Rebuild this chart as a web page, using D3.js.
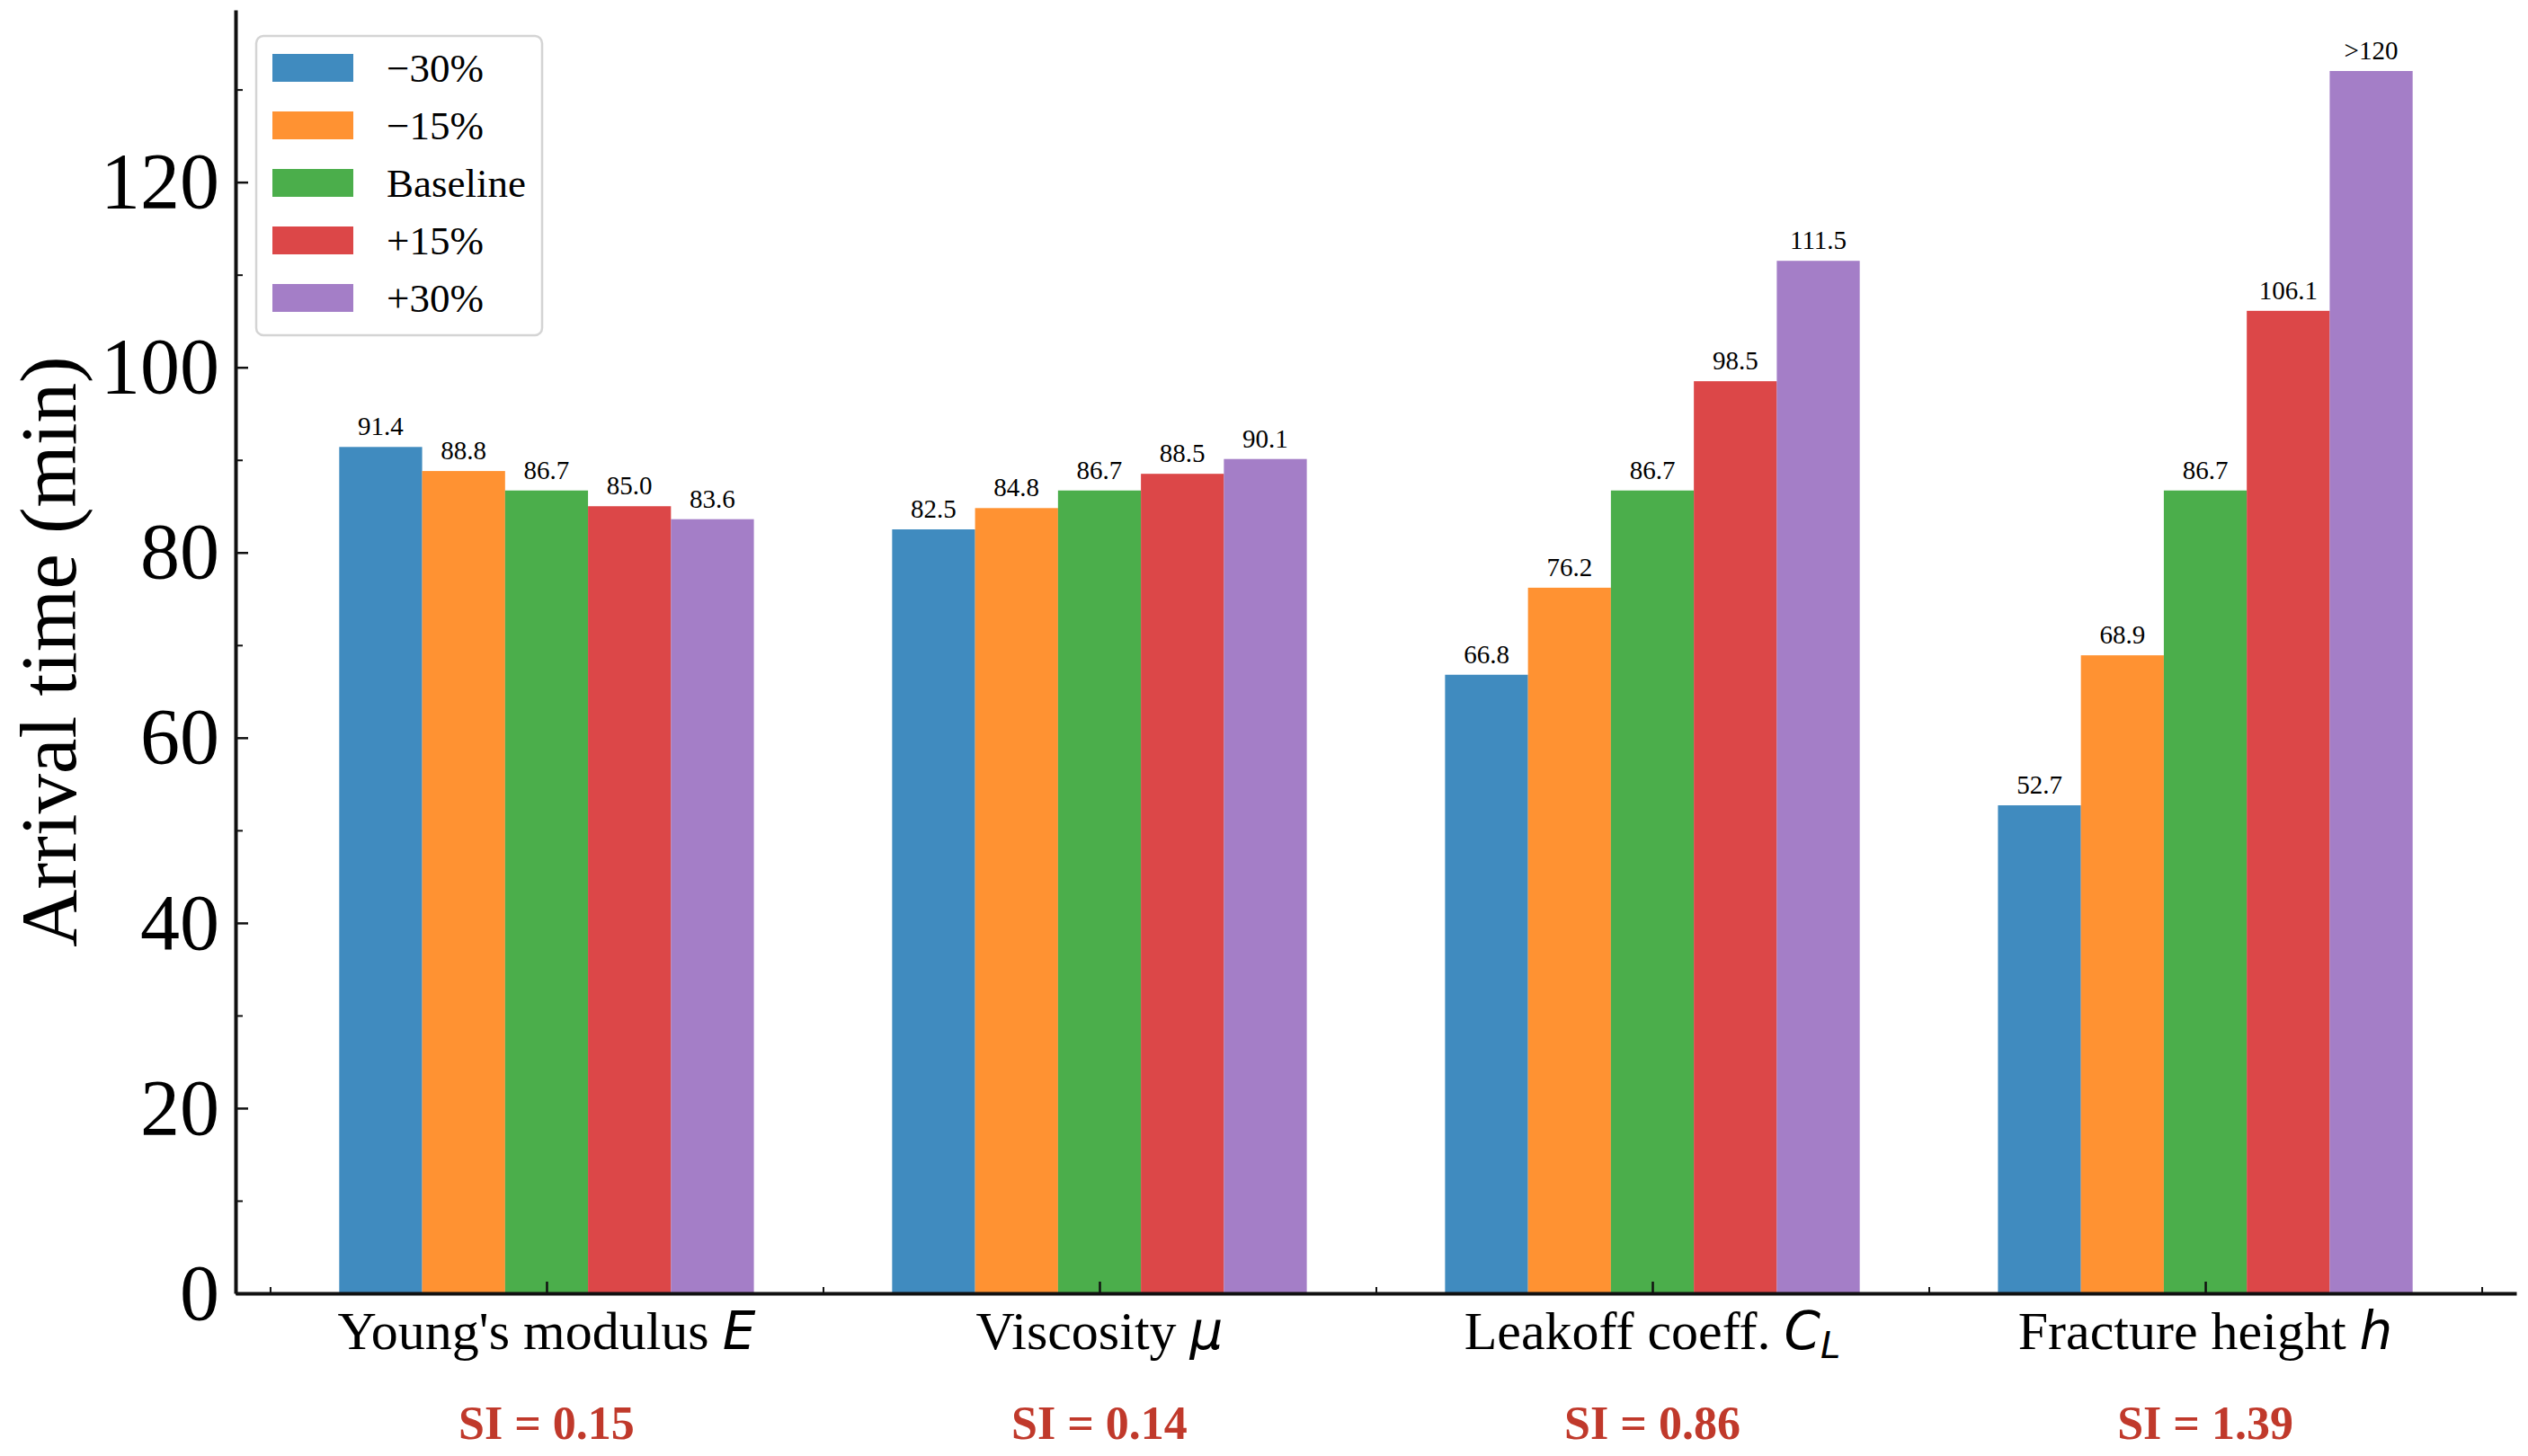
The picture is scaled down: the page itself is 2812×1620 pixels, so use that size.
<!DOCTYPE html>
<html>
<head>
<meta charset="utf-8">
<script src="https://cdn.jsdelivr.net/npm/d3@7"></script>
<style>
  body { margin: 0; background: #fff; }
</style>
</head>
<body>
<div id="chart"></div>
<script>
// ---- data ----
const groups = ["Young's modulus", "Viscosity", "Leakoff coeff.", "Fracture height"];
const symbols = ["E", "\u03bc", "C", "h"];
const subscripts = ["", "", "L", ""];
const seriesNames = ["\u221230%", "\u221215%", "Baseline", "+15%", "+30%"];
const minus30 = [91.4, 82.5, 66.8, 52.7];
const minus15 = [88.8, 84.8, 76.2, 68.9];
const baseline = [86.7, 86.7, 86.7, 86.7];
const plus15 = [85.0, 88.5, 98.5, 106.1];
const plus30 = [83.6, 90.1, 111.5, 132.0];   // last bar is clipped at ">120"
const plus30Labels = ["83.6", "90.1", "111.5", ">120"];
const siValues = ["0.15", "0.14", "0.86", "1.39"];
const yTicks = [0, 20, 40, 60, 80, 100, 120];
const yMinorTicks = [10, 30, 50, 70, 90, 110, 130];

const seriesValues = [minus30, minus15, baseline, plus15, plus30];
const colors = ["#1f77b4", "#ff7f0e", "#2ca02c", "#d62728", "#9467bd"];

const width = 2812, height = 1620;
const serif = "'Liberation Serif', 'Times New Roman', serif";
const mathFont = "'DejaVu Sans', sans-serif";
const barW = 0.15;

const svg = d3.select("#chart").append("svg")
    .attr("width", width)
    .attr("height", height);

const x = d3.scaleLinear().domain([-0.5625, 3.5625]).range([262, 2799]);
const y = d3.scaleLinear().domain([0, 138.6]).range([1439, 11]);

// bars
seriesValues.forEach((vals, j) => {
    const g = svg.append("g");
    const off = (j - 2) * barW;
    g.selectAll("rect")
        .data(vals)
        .enter()
        .append("rect")
        .attr("x", (d, i) => x(i + off - barW / 2))
        .attr("width", x(barW) - x(0))
        .attr("y", d => y(d))
        .attr("height", d => y(0) - y(d))
        .attr("fill", colors[j])
        .attr("fill-opacity", 0.85);

    // value labels on top of bars
    g.selectAll("text")
        .data(vals)
        .enter()
        .append("text")
        .attr("x", (d, i) => x(i + off))
        .attr("y", d => y(d) - 13)
        .attr("text-anchor", "middle")
        .style("font-family", serif)
        .style("font-size", "29px")
        .text((d, i) => j === 4 ? plus30Labels[i] : d.toFixed(1));
});

// y axis
const yAxis = svg.append("g")
    .attr("transform", `translate(${x(-0.5625)},0)`)
    .call(d3.axisLeft(y).tickValues(yTicks).tickSize(-14).tickSizeOuter(0).tickPadding(18));
yAxis.select(".domain").attr("stroke", "#111").attr("stroke-width", 4);
yAxis.selectAll(".tick line").attr("stroke", "#111").attr("stroke-width", 2.5);
yAxis.selectAll(".tick text")
    .style("font-family", serif)
    .style("font-size", "88px")
    .attr("fill", "#000");

const yMinor = svg.append("g")
    .attr("transform", `translate(${x(-0.5625)},0)`)
    .call(d3.axisLeft(y).tickValues(yMinorTicks).tickSize(-8).tickFormat(""));
yMinor.select(".domain").remove();
yMinor.selectAll(".tick line").attr("stroke", "#111").attr("stroke-width", 2);

// x axis
const xAxis = svg.append("g")
    .attr("transform", `translate(0,${y(0)})`)
    .call(d3.axisBottom(x).tickValues([0, 1, 2, 3]).tickSize(-13).tickSizeOuter(0).tickFormat(""));
xAxis.select(".domain").attr("stroke", "#111").attr("stroke-width", 4);
xAxis.selectAll(".tick line").attr("stroke", "#111").attr("stroke-width", 2.5);

const xMinor = svg.append("g")
    .attr("transform", `translate(0,${y(0)})`)
    .call(d3.axisBottom(x).tickValues([-0.5, 0.5, 1.5, 2.5, 3.5]).tickSize(-7).tickFormat(""));
xMinor.select(".domain").remove();
xMinor.selectAll(".tick line").attr("stroke", "#111").attr("stroke-width", 2);

// category labels with italic math symbol
groups.forEach((name, i) => {
    const t = svg.append("text")
        .attr("x", x(i))
        .attr("y", 1501)
        .attr("text-anchor", "middle")
        .style("font-family", serif)
        .style("font-size", "60px");
    t.append("tspan").text(name + " ");
    t.append("tspan")
        .style("font-family", mathFont)
        .style("font-style", "italic")
        .style("font-size", "58px")
        .text(symbols[i]);
    if (subscripts[i]) {
        t.append("tspan")
            .style("font-family", mathFont)
            .style("font-style", "italic")
            .style("font-size", "40px")
            .attr("dy", 10)
            .text(subscripts[i]);
    }

    svg.append("text")
        .attr("x", x(i))
        .attr("y", 1601)
        .attr("text-anchor", "middle")
        .style("font-family", serif)
        .style("font-size", "52px")
        .style("font-weight", "bold")
        .attr("fill", "#c0392b")
        .text("SI = " + siValues[i]);
});

// y label
svg.append("text")
    .attr("transform", `translate(84,${(y(0) + y(138.6)) / 2}) rotate(-90)`)
    .attr("text-anchor", "middle")
    .style("font-family", serif)
    .style("font-size", "89px")
    .text("Arrival time (min)");

// legend
const legend = svg.append("g").attr("transform", "translate(285,40)");
legend.append("rect")
    .attr("width", 318)
    .attr("height", 333)
    .attr("rx", 8)
    .attr("fill", "#fff")
    .attr("fill-opacity", 0.8)
    .attr("stroke", "#d4d4d4")
    .attr("stroke-width", 2.5);

const rowY = d3.scaleLinear().domain([0, 4]).range([35, 291]);
seriesNames.forEach((name, j) => {
    legend.append("rect")
        .attr("x", 18)
        .attr("y", rowY(j) - 15)
        .attr("width", 90)
        .attr("height", 31)
        .attr("fill", colors[j])
        .attr("fill-opacity", 0.85);
    legend.append("text")
        .attr("x", 145)
        .attr("y", rowY(j))
        .attr("dy", "0.35em")
        .style("font-family", serif)
        .style("font-size", "45px")
        .text(name);
});
</script>
</body>
</html>
